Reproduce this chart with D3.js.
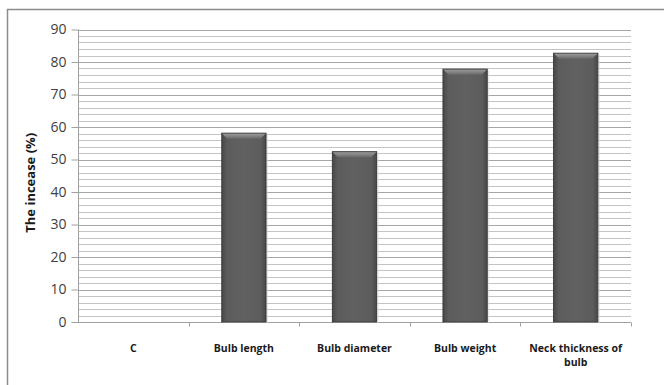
<!DOCTYPE html>
<html><head><meta charset="utf-8">
<script src="https://cdn.jsdelivr.net/npm/d3@7"></script>
<style>html,body{margin:0;padding:0;background:#fff;}svg{display:block;}</style>
</head><body>
<script>
const categories = ["C", "Bulb length", "Bulb diameter", "Bulb weight", "Neck thickness of bulb"];
const labelLines = [["C"], ["Bulb length"], ["Bulb diameter"], ["Bulb weight"], ["Neck thickness of", "bulb"]];
const values = [0, 58.1, 52.4, 77.8, 82.7];
const yTicks = [0, 10, 20, 30, 40, 50, 60, 70, 80, 90];
const yMinor = d3.range(0, 91, 2);

const W = 664, H = 385;
const m = {left: 78, right: 33, top: 29.5, bottom: 63};
const svg = d3.select("body").append("svg").attr("width", W).attr("height", H);

const defs = svg.append("defs");
const g1 = defs.append("linearGradient").attr("id", "barg").attr("x1", "0").attr("x2", "1").attr("y1", "0").attr("y2", "0");
g1.append("stop").attr("offset", "0").attr("stop-color", "#484848");
g1.append("stop").attr("offset", "0.12").attr("stop-color", "#5c5c5c");
g1.append("stop").attr("offset", "0.5").attr("stop-color", "#616161");
g1.append("stop").attr("offset", "0.88").attr("stop-color", "#5c5c5c");
g1.append("stop").attr("offset", "1").attr("stop-color", "#484848");
const g2 = defs.append("linearGradient").attr("id", "bevel").attr("x1", "0").attr("x2", "0").attr("y1", "0").attr("y2", "1");
g2.append("stop").attr("offset", "0").attr("stop-color", "#9a9a9a");
g2.append("stop").attr("offset", "1").attr("stop-color", "#6a6a6a");

// outer chart border
svg.append("rect").attr("x", 7.5).attr("y", 9.5).attr("width", W + 10).attr("height", H + 10)
  .attr("fill", "none").attr("stroke", "#8c8c8c").attr("stroke-width", 1.5);

const x = d3.scaleBand().domain(categories).range([m.left, W - m.right]).paddingInner(0.6).paddingOuter(0.3);
const xb = d3.scaleBand().domain(categories).range([m.left, W - m.right]);
const y = d3.scaleLinear().domain([0, 90]).range([H - m.bottom, m.top]);

// minor gridlines
svg.append("g").selectAll("line").data(yMinor.filter(v => v % 10 !== 0)).join("line")
  .attr("x1", m.left).attr("x2", W - m.right)
  .attr("y1", d => Math.round(y(d)) + 0.5).attr("y2", d => Math.round(y(d)) + 0.5)
  .attr("stroke", "#c4c4c4").attr("stroke-width", 1);
// major gridlines
svg.append("g").selectAll("line").data(yTicks.filter(v => v > 0)).join("line")
  .attr("x1", m.left).attr("x2", W - m.right)
  .attr("y1", d => Math.round(y(d)) + 0.5).attr("y2", d => Math.round(y(d)) + 0.5)
  .attr("stroke", "#a6a6a6").attr("stroke-width", 1);

// y axis
const ya = svg.append("g").attr("transform", `translate(${m.left + 0.5},0)`)
  .call(d3.axisLeft(y).tickValues(yTicks).tickSize(7).tickPadding(5).tickFormat(d3.format("d")));
ya.select(".domain").attr("stroke", "#a0a0a0").attr("d", `M0,${y(90)}V${y(0)}`);
ya.selectAll(".tick line").attr("stroke", "#a0a0a0");
ya.selectAll(".tick text").attr("fill", "#404040").style("font-family", "'Open Sans', 'Liberation Sans', sans-serif").style("font-size", "14px");

// x axis
const xa = svg.append("g").attr("transform", `translate(0,${Math.round(y(0)) + 0.5})`);
xa.append("line").attr("x1", m.left).attr("x2", W - m.right).attr("stroke", "#a0a0a0");
const bounds = categories.map(c => xb(c)).concat([xb(categories[categories.length - 1]) + xb.bandwidth()]);
xa.selectAll("line.tk").data(bounds.slice(1)).join("line").attr("class", "tk")
  .attr("x1", d => Math.round(d) + 0.5).attr("x2", d => Math.round(d) + 0.5).attr("y1", 0).attr("y2", 4)
  .attr("stroke", "#a0a0a0");

// bars
const bars = svg.append("g").selectAll("g").data(categories.map((c, i) => ({c, v: values[i]}))).join("g");
bars.filter(d => d.v > 0).append("rect")
  .attr("x", d => x(d.c) + 1).attr("width", x.bandwidth() + 1)
  .attr("y", d => y(d.v) + 1).attr("height", d => y(0) - y(d.v))
  .attr("fill", "#d9d9d9").attr("opacity", 0.6);
bars.filter(d => d.v > 0).append("rect")
  .attr("x", d => x(d.c)).attr("width", x.bandwidth())
  .attr("y", d => y(d.v)).attr("height", d => y(0) - y(d.v))
  .attr("fill", "url(#barg)").attr("stroke", "#3c3c3c").attr("stroke-width", 1);
bars.filter(d => d.v > 0).append("path")
  .attr("d", d => {
    const x0 = x(d.c) + 0.5, x1 = x(d.c) + x.bandwidth() - 0.5, t = y(d.v) + 0.5;
    return `M${x0},${t}L${x1},${t}L${x1 - 5},${t + 5}L${x0 + 5},${t + 5}Z`;
  })
  .attr("fill", "url(#bevel)");

// category labels
const lab = svg.append("g").selectAll("text").data(categories.map((c, i) => ({c, lines: labelLines[i]}))).join("text")
  .attr("x", d => xb(d.c) + xb.bandwidth() / 2).attr("y", 352)
  .attr("text-anchor", "middle").attr("fill", "#1a1a1a")
  .style("font-family", "'Open Sans', 'Liberation Sans', sans-serif").style("font-size", "10.5px").style("font-weight", "bold");
lab.selectAll("tspan").data(d => d.lines.map(l => ({l, x: xb(d.c) + xb.bandwidth() / 2}))).join("tspan")
  .attr("x", d => d.x).attr("dy", (d, i) => i === 0 ? 0 : 14).text(d => d.l);

// y label
svg.append("text").attr("transform", `translate(35,${(y(0) + y(90)) / 2 + 7}) rotate(-90)`)
  .attr("text-anchor", "middle").attr("fill", "#1a1a1a")
  .style("font-family", "'Open Sans', 'Liberation Sans', sans-serif").style("font-size", "13px").style("font-weight", "bold")
  .text("The incease (%)");
</script>
</body></html>
